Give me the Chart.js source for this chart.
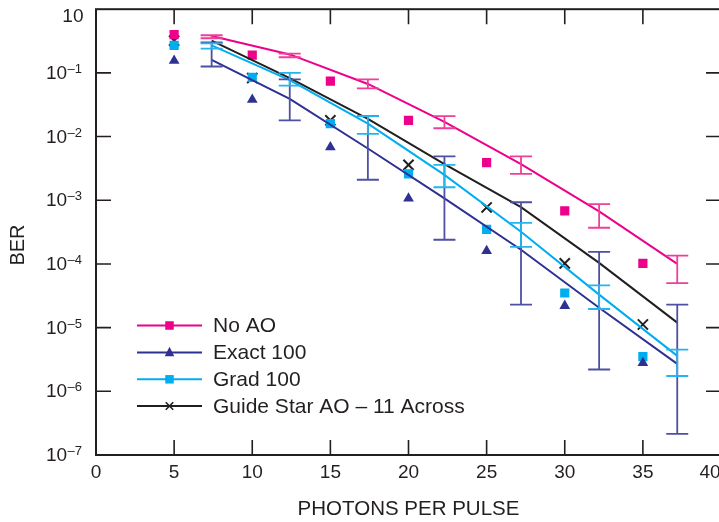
<!DOCTYPE html>
<html>
<head>
<meta charset="utf-8">
<script src="https://cdn.jsdelivr.net/npm/chart.js@4.4.0/dist/chart.umd.min.js"></script>
<style>
  html, body { margin: 0; padding: 0; background: #fff; overflow: hidden; }
  #wrap { width: 740px; height: 522px; }
</style>
</head>
<body>
<div id="wrap"><canvas id="chart" width="740" height="522"></canvas></div>
<script>
// measured points (markers) at whole photon counts
const markerX = [5, 10, 15, 20, 25, 30, 35];
const noAoPts = [0.40, 0.19, 0.074, 0.018, 0.0039, 0.00068, 1.02e-4];
const exactPts = [0.155, 0.038, 0.0068, 0.00107, 1.6e-4, 2.2e-5, 2.8e-6];
const gradPts = [0.27, 0.085, 0.016, 0.0026, 3.5e-4, 3.5e-5, 3.5e-6];
const guidePts = [0.32, 0.083, 0.018, 0.0036, 7.7e-4, 1.02e-4, 1.12e-5];

// curves + error bars
const lineX = [7.4, 12.4, 17.4, 22.3, 27.2, 32.2, 37.2];
const noAoLine = [0.38, 0.195, 0.067, 0.017, 0.0037, 6.7e-4, 1.0e-4];
const exactLine = [0.16, 0.039, 0.0065, 0.00107, 1.67e-4, 2.05e-5, 2.7e-6];
const gradLine = [0.27, 0.077, 0.016, 0.0025, 3.2e-4, 3.3e-5, 3.6e-6];
const guideLine = [0.32, 0.083, 0.019, 0.0037, 7.8e-4, 1.04e-4, 1.2e-5];

const noAoHi = [0.39, 0.20, 0.079, 0.021, 0.0049, 8.7e-4, 1.35e-4];
const noAoLo = [0.35, 0.176, 0.057, 0.0135, 0.0026, 3.7e-4, 5.0e-5];
const exactHi = [0.30, 0.079, 0.021, 0.0049, 9.3e-4, 1.55e-4, 2.3e-5];
const exactLo = [0.126, 0.018, 0.0021, 2.4e-4, 2.3e-5, 2.2e-6, 2.15e-7];
const gradHi = [0.29, 0.10, 0.021, 0.0036, 4.4e-4, 4.6e-5, 4.5e-6];
const gradLo = [0.24, 0.063, 0.011, 0.0016, 1.85e-4, 1.96e-5, 1.74e-6];

const seriesLabels = ["No AO", "Exact 100", "Grad 100", "Guide Star AO \u2013 11 Across"];
const xTickValues = [0, 5, 10, 15, 20, 25, 30, 35, 40];
const yTickValues = [1, 1e-1, 1e-2, 1e-3, 1e-4, 1e-5, 1e-6, 1e-7];
const yTickExp = ["", "\u20131", "\u20132", "\u20133", "\u20134", "\u20135", "\u20136", "\u20137"];

const INK = "#231f20";
const FONT = "'Liberation Sans', Arial, Helvetica, sans-serif";

const series = [
  { label: seriesLabels[0], color: "#ec008c", err: "#ef3f98", style: "rect", r: 6.5, pts: noAoPts, line: noAoLine, hi: noAoHi, lo: noAoLo },
  { label: seriesLabels[1], color: "#2e3192", err: "#4d50a3", style: "triangle", r: 6.2, pts: exactPts, line: exactLine, hi: exactHi, lo: exactLo },
  { label: seriesLabels[2], color: "#00aeef", err: "#22b5ef", style: "rect", r: 6.5, pts: gradPts, line: gradLine, hi: gradHi, lo: gradLo },
  { label: seriesLabels[3], color: INK, err: null, style: "crossRot", r: 7.2, pts: guidePts, line: guideLine }
];

const datasets = [];
series.forEach(s => {
  datasets.push({
    label: s.label,
    data: lineX.map((x, i) => ({ x, y: s.line[i] })),
    showLine: true,
    borderColor: s.color,
    borderWidth: 2,
    pointRadius: 0,
    fill: false
  });
});
series.forEach(s => {
  datasets.push({
    label: s.label + " pts",
    data: markerX.map((x, i) => ({ x, y: s.pts[i] })),
    showLine: false,
    pointStyle: s.style,
    pointRadius: s.r,
    backgroundColor: s.color,
    borderColor: s.color,
    borderWidth: s.style === "crossRot" ? 2 : 0
  });
});

function drawMarker(ctx, style, cx, cy, size, color) {
  ctx.fillStyle = color;
  ctx.strokeStyle = color;
  if (style === "rect") {
    ctx.fillRect(cx - size / 2, cy - size / 2, size, size);
  } else if (style === "triangle") {
    ctx.beginPath();
    ctx.moveTo(cx, cy - size * 0.6);
    ctx.lineTo(cx + size / 2, cy + size * 0.4);
    ctx.lineTo(cx - size / 2, cy + size * 0.4);
    ctx.closePath();
    ctx.fill();
  } else {
    const h = size / 2;
    ctx.lineWidth = 1.6;
    ctx.beginPath();
    ctx.moveTo(cx - h, cy - h); ctx.lineTo(cx + h, cy + h);
    ctx.moveTo(cx + h, cy - h); ctx.lineTo(cx - h, cy + h);
    ctx.stroke();
  }
}

const decorPlugin = {
  id: "decor",
  afterDatasetsDraw(chart) {
    const { ctx, scales: { x, y } } = chart;
    ctx.save();
    ctx.lineWidth = 1.8;
    series.forEach(s => {
      if (!s.hi) return;
      ctx.strokeStyle = s.err;
      lineX.forEach((xv, i) => {
        const px = x.getPixelForValue(xv);
        const t = y.getPixelForValue(s.hi[i]);
        const b = y.getPixelForValue(s.lo[i]);
        ctx.beginPath();
        ctx.moveTo(px, t); ctx.lineTo(px, b);
        ctx.moveTo(px - 11, t); ctx.lineTo(px + 11, t);
        ctx.moveTo(px - 11, b); ctx.lineTo(px + 11, b);
        ctx.stroke();
      });
    });
    ctx.restore();
  },
  afterDraw(chart) {
    const { ctx, chartArea: a, scales: { x, y } } = chart;
    ctx.save();
    // frame
    ctx.strokeStyle = INK;
    ctx.lineWidth = 2;
    ctx.strokeRect(a.left, a.top, a.right - a.left, a.bottom - a.top);
    // inward ticks
    ctx.lineWidth = 1.6;
    ctx.beginPath();
    xTickValues.forEach((v, i) => {
      if (i === 0 || i === xTickValues.length - 1) return;
      const px = x.getPixelForValue(v);
      ctx.moveTo(px, a.bottom); ctx.lineTo(px, a.bottom - 15);
      ctx.moveTo(px, a.top); ctx.lineTo(px, a.top + 15);
    });
    yTickValues.forEach((v, i) => {
      if (i === 0 || i === yTickValues.length - 1) return;
      const py = y.getPixelForValue(v);
      ctx.moveTo(a.left, py); ctx.lineTo(a.left + 15, py);
      ctx.moveTo(a.right, py); ctx.lineTo(a.right - 15, py);
    });
    ctx.stroke();

    ctx.fillStyle = INK;
    // x tick labels (last one pulled in so it sits at the page edge)
    ctx.font = "19px " + FONT;
    ctx.textAlign = "center";
    ctx.textBaseline = "alphabetic";
    xTickValues.forEach(v => {
      const px = Math.min(x.getPixelForValue(v), 710);
      ctx.fillText(String(v), px, a.bottom + 23);
    });

    // y tick labels 10^n
    yTickValues.forEach((v, i) => {
      const py = y.getPixelForValue(v);
      const exp = yTickExp[i];
      if (!exp) {
        ctx.font = "19px " + FONT;
        ctx.textAlign = "right";
        ctx.fillText("10", 83.5, Math.max(py + 6, a.top + 13));
        return;
      }
      ctx.font = "13px " + FONT;
      const ew = ctx.measureText(exp).width;
      ctx.textAlign = "left";
      ctx.fillText(exp, 82 - ew, py);
      ctx.font = "19px " + FONT;
      ctx.textAlign = "right";
      ctx.fillText("10", 82 - ew - 0.5, py + 6);
    });

    // y axis title
    ctx.save();
    ctx.translate(18, 245);
    ctx.rotate(-Math.PI / 2);
    ctx.font = "20px " + FONT;
    ctx.textAlign = "center";
    ctx.textBaseline = "middle";
    ctx.fillText("BER", 0, 0);
    ctx.restore();

    // legend
    const rows = [325.5, 352.5, 379.3, 406];
    const sizes = { rect: 8.5, triangle: 9.5, crossRot: 7.5 };
    series.forEach((s, i) => {
      const ry = rows[i];
      ctx.strokeStyle = s.color;
      ctx.lineWidth = 2;
      ctx.beginPath();
      ctx.moveTo(137, ry); ctx.lineTo(202, ry);
      ctx.stroke();
      drawMarker(ctx, s.style, 169.5, ry, sizes[s.style], s.color);
      ctx.fillStyle = INK;
      ctx.font = "21px " + FONT;
      ctx.textAlign = "left";
      ctx.textBaseline = "middle";
      ctx.fillText(s.label, 213, ry + 1);
    });
    ctx.restore();
  }
};

new Chart(document.getElementById("chart"), {
  type: "scatter",
  data: { datasets },
  options: {
    responsive: false,
    animation: false,
    devicePixelRatio: 1,
    layout: { padding: { left: 96, top: 7, right: 19, bottom: 0 } },
    plugins: { legend: { display: false }, tooltip: { enabled: false } },
    scales: {
      x: {
        type: "linear",
        min: 0,
        max: 40,
        grid: { display: false },
        border: { display: false },
        ticks: { display: false },
        title: { display: true, text: "PHOTONS PER PULSE", color: INK, padding: 0, font: { size: 20.5, family: FONT } },
        afterFit: scale => { scale.height = 67; }
      },
      y: {
        type: "logarithmic",
        display: false,
        min: 1e-7,
        max: 1
      }
    }
  },
  plugins: [decorPlugin]
});
</script>
</body>
</html>
